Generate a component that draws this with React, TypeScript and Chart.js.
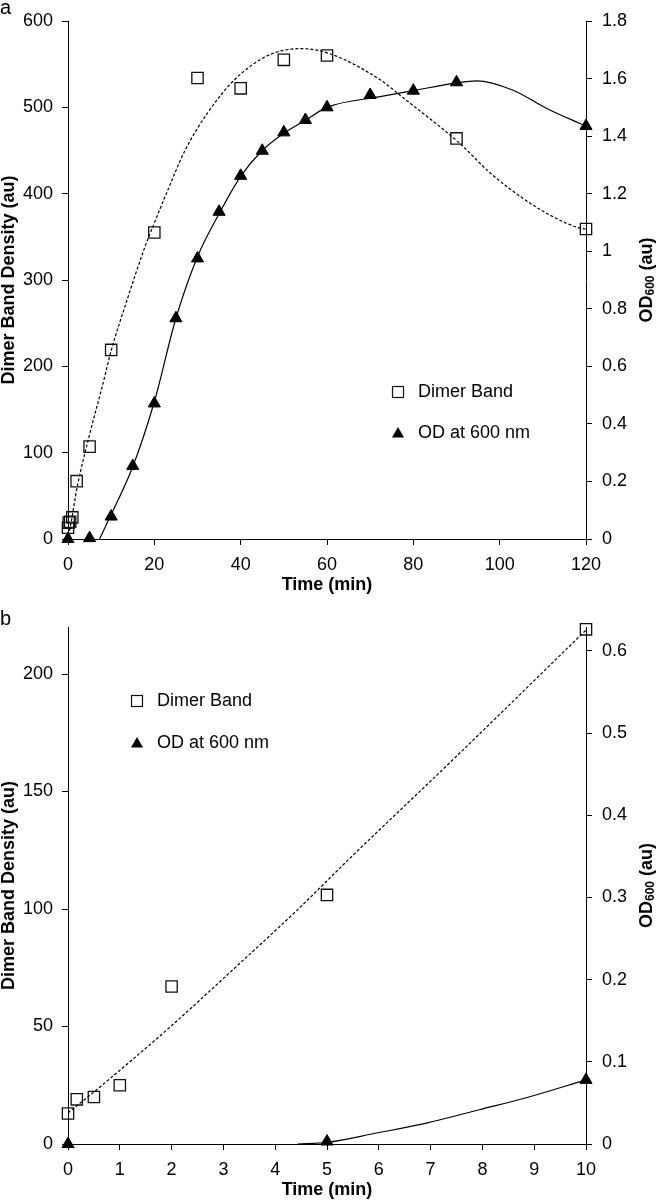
import React, { useEffect, useRef } from "react";
import { Chart, registerables } from "chart.js";
Chart.register(...registerables);

const FONT = "'Liberation Sans', Arial, Helvetica, sans-serif";

// ---------- Panel a data ----------
const timeDimerA = [0, 0.17, 0.5, 1, 2, 5, 10, 20, 30, 40, 50, 60, 90, 120];
const dimerA = [13, 19, 20, 25, 67, 107, 219, 355, 534, 522, 555, 560, 464, 359];
const timeOdA = [0, 5, 10, 15, 20, 25, 30, 35, 40, 45, 50, 55, 60, 70, 80, 90, 120];
const odA = [0, 0.003, 0.078, 0.254, 0.471, 0.767, 0.975, 1.137, 1.262, 1.349, 1.413, 1.456, 1.5, 1.543, 1.558, 1.587, 1.435];
// trend lines
const dimerFitTA = [0, 0.4, 2.2, 5, 8, 10, 13.5, 17.8, 20, 23.2, 27, 32.4, 38.6, 46.3, 54, 60.7, 72.3, 76.9, 90.8, 97.8, 104.7, 111.7, 118.6, 120];
const dimerFitA = [4, 11, 62, 121, 178, 218, 274, 338, 366, 405, 449, 494, 532, 560, 568, 562, 532, 514, 458, 424, 397, 375, 360, 359];
const odFitTA = [7.3, 10, 15, 20, 25, 30, 35, 40, 45, 50, 55, 60, 72.3, 80, 90, 94.7, 103, 110.9, 118.6, 120];
const odFitA = [0, 0.085, 0.251, 0.477, 0.767, 0.981, 1.13, 1.26, 1.35, 1.41, 1.455, 1.5, 1.537, 1.558, 1.585, 1.592, 1.56, 1.496, 1.444, 1.435];
const xTicksA = [0, 20, 40, 60, 80, 100, 120];
const yTicksA = [0, 100, 200, 300, 400, 500, 600];
const y2TicksA = [0, 0.2, 0.4, 0.6, 0.8, 1, 1.2, 1.4, 1.6, 1.8];

// ---------- Panel b data ----------
const timeDimerB = [0, 0.17, 0.5, 1, 2, 5, 10];
const dimerB = [13, 19, 20, 25, 67, 106, 219];
const timeOdB = [0, 5, 10];
const odB = [0, 0.003, 0.078];
const dimerFitTB = [0, 0.63, 1.91, 3.18, 4.46, 5.41, 7.5, 10];
const dimerFitB = [13.2, 24.5, 48.6, 74.1, 100.3, 120.9, 165, 218.7];
const odFitTB = [4.43, 5, 5.96, 6.92, 7.94, 8.83, 10];
const odFitB = [0, 0.002, 0.0134, 0.0255, 0.0417, 0.056, 0.078];
const xTicksB = [0, 1, 2, 3, 4, 5, 6, 7, 8, 9, 10];
const yTicksB = [0, 50, 100, 150, 200];
const y2TicksB = [0, 0.1, 0.2, 0.3, 0.4, 0.5, 0.6];

const legendLabels = ["Dimer Band", "OD at 600 nm"];
const xTitle = "Time (min)";
const yTitle = "Dimer Band Density (au)";

type Pt = { x: number; y: number };
const zip = (xs: number[], ys: number[]): Pt[] => xs.map((x, i) => ({ x, y: ys[i] }));

interface Spec {
  id: string;
  height: number;
  areaTop: number;
  areaBottom: number;
  xMax: number;
  xTicks: number[];
  yMax: number;
  yTicks: number[];
  y2Max: number;
  y2Ticks: number[];
  dimer: Pt[];
  od: Pt[];
  dimerFit: Pt[];
  odFit: Pt[];
  label: string;
  labelY: number;
  legendX: number;
  legendY1: number;
  legendY2: number;
  xTitleY: number;
}

const AREA_LEFT = 68;
const AREA_RIGHT = 586;
const WIDTH = 657;

function overlayPlugin(spec: Spec) {
  return {
    id: "overlay_" + spec.id,
    afterDraw(chart: any) {
      const ctx: CanvasRenderingContext2D = chart.ctx;
      const area = chart.chartArea;
      ctx.save();
      ctx.fillStyle = "#000";
      ctx.strokeStyle = "#000";
      // panel label
      ctx.font = `20px ${FONT}`;
      ctx.textAlign = "left";
      ctx.textBaseline = "alphabetic";
      ctx.fillText(spec.label, 0, spec.labelY);
      // x title
      ctx.font = `bold 18px ${FONT}`;
      ctx.textAlign = "center";
      ctx.textBaseline = "middle";
      ctx.fillText(xTitle, (area.left + area.right) / 2, spec.xTitleY);
      const cy = (area.top + area.bottom) / 2;
      // left title
      ctx.save();
      ctx.translate(9, cy);
      ctx.rotate(-Math.PI / 2);
      ctx.fillText(yTitle, 0, 0);
      ctx.restore();
      // right title with subscript
      ctx.save();
      ctx.translate(647, cy);
      ctx.rotate(-Math.PI / 2);
      const big = `bold 18px ${FONT}`;
      const small = `bold 12px ${FONT}`;
      ctx.font = big;
      const w1 = ctx.measureText("OD").width;
      const w3 = ctx.measureText(" (au)").width;
      ctx.font = small;
      const w2 = ctx.measureText("600").width;
      const x0 = -(w1 + w2 + w3) / 2;
      ctx.textAlign = "left";
      ctx.textBaseline = "middle";
      ctx.font = big;
      ctx.fillText("OD", x0, 0);
      ctx.font = small;
      ctx.fillText("600", x0 + w1, 4);
      ctx.font = big;
      ctx.fillText(" (au)", x0 + w1 + w2, 0);
      ctx.restore();
      // legend
      const lx = spec.legendX;
      ctx.lineWidth = 1.2;
      ctx.strokeStyle = "#111";
      ctx.strokeRect(lx - 5.5, spec.legendY1 - 5.5, 11, 11);
      const r = 7;
      const ty = spec.legendY2 + 1;
      ctx.beginPath();
      ctx.moveTo(lx, ty - r);
      ctx.lineTo(lx + r * Math.sin((2 * Math.PI) / 3), ty - r * Math.cos((2 * Math.PI) / 3));
      ctx.lineTo(lx + r * Math.sin((4 * Math.PI) / 3), ty - r * Math.cos((4 * Math.PI) / 3));
      ctx.closePath();
      ctx.fillStyle = "#000";
      ctx.fill();
      ctx.font = `18px ${FONT}`;
      ctx.textAlign = "left";
      ctx.textBaseline = "middle";
      ctx.fillText(legendLabels[0], lx + 20, spec.legendY1);
      ctx.fillText(legendLabels[1], lx + 20, spec.legendY2);
      ctx.restore();
    },
  };
}

function axisCommon(ticks: number[], padding: number) {
  return {
    grid: { drawOnChartArea: false, drawTicks: true, tickLength: 6, color: "#000", lineWidth: 1 },
    border: { display: true, color: "#000", width: 1 },
    afterBuildTicks: (axis: any) => {
      axis.ticks = ticks.map((v) => ({ value: v }));
    },
    ticks: {
      color: "#000",
      font: { family: FONT, size: 18 },
      padding,
      callback: (v: any) => String(v),
      maxRotation: 0,
      autoSkip: false,
    },
  };
}

function buildChart(canvas: HTMLCanvasElement, spec: Spec) {
  const xHeight = spec.height - spec.areaBottom;
  return new Chart(canvas, {
    type: "scatter",
    data: {
      datasets: [
        {
          label: legendLabels[0],
          data: spec.dimer,
          yAxisID: "y",
          pointStyle: "rect",
          pointRadius: 8,
          pointBorderWidth: 1.3,
          borderColor: "#111",
          backgroundColor: "rgba(0,0,0,0)",
          showLine: false,
          clip: false,
        } as any,
        {
          label: legendLabels[1],
          data: spec.od,
          yAxisID: "y2",
          pointStyle: "triangle",
          pointRadius: 7,
          pointBorderWidth: 1,
          borderColor: "#000",
          backgroundColor: "#000",
          showLine: false,
          clip: false,
        } as any,
        {
          label: "dimer fit",
          data: spec.dimerFit,
          yAxisID: "y",
          showLine: true,
          pointRadius: 0,
          borderColor: "#000",
          borderWidth: 1.2,
          borderDash: [3, 2],
          cubicInterpolationMode: "monotone",
          fill: false,
        } as any,
        {
          label: "od fit",
          data: spec.odFit,
          yAxisID: "y2",
          showLine: true,
          pointRadius: 0,
          borderColor: "#000",
          borderWidth: 1.2,
          cubicInterpolationMode: "monotone",
          fill: false,
        } as any,
      ],
    },
    options: {
      animation: false,
      responsive: false,
      devicePixelRatio: 1,
      events: [],
      layout: { padding: { top: spec.areaTop, left: 0, right: 0, bottom: 0 } },
      plugins: { legend: { display: false }, tooltip: { enabled: false } },
      scales: {
        x: {
          type: "linear",
          min: 0,
          max: spec.xMax,
          ...axisCommon(spec.xTicks, 9),
          afterFit: (s: any) => {
            s.height = xHeight;
          },
        } as any,
        y: {
          type: "linear",
          position: "left",
          min: 0,
          max: spec.yMax,
          ...axisCommon(spec.yTicks, 9),
          afterFit: (s: any) => {
            s.width = AREA_LEFT;
          },
        } as any,
        y2: {
          type: "linear",
          position: "right",
          min: 0,
          max: spec.y2Max,
          ...axisCommon(spec.y2Ticks, 10),
          afterFit: (s: any) => {
            s.width = WIDTH - AREA_RIGHT;
          },
        } as any,
      },
    },
    plugins: [overlayPlugin(spec)],
  });
}

const specA: Spec = {
  id: "a",
  height: 600,
  areaTop: 21,
  areaBottom: 539,
  xMax: 120,
  xTicks: xTicksA,
  yMax: 600,
  yTicks: yTicksA,
  y2Max: 1.8,
  y2Ticks: y2TicksA,
  dimer: zip(timeDimerA, dimerA),
  od: zip(timeOdA, odA),
  dimerFit: zip(dimerFitTA, dimerFitA),
  odFit: zip(odFitTA, odFitA),
  label: "a",
  labelY: 14,
  legendX: 398,
  legendY1: 392,
  legendY2: 433,
  xTitleY: 585,
};

const specB: Spec = {
  id: "b",
  height: 601,
  areaTop: 27,
  areaBottom: 544,
  xMax: 10,
  xTicks: xTicksB,
  yMax: 220,
  yTicks: yTicksB,
  y2Max: 0.629,
  y2Ticks: y2TicksB,
  dimer: zip(timeDimerB, dimerB),
  od: zip(timeOdB, odB),
  dimerFit: zip(dimerFitTB, dimerFitB),
  odFit: zip(odFitTB, odFitB),
  label: "b",
  labelY: 25,
  legendX: 137,
  legendY1: 101,
  legendY2: 143,
  xTitleY: 590,
};

function Panel({ spec }: { spec: Spec }) {
  const ref = useRef<HTMLCanvasElement | null>(null);
  useEffect(() => {
    if (!ref.current) return;
    const chart = buildChart(ref.current, spec);
    return () => chart.destroy();
  }, [spec]);
  return (
    <canvas
      ref={ref}
      width={WIDTH}
      height={spec.height}
      style={{ display: "block", width: WIDTH, height: spec.height }}
    />
  );
}

export default function App() {
  return (
    <div style={{ position: "absolute", left: 0, top: 0, width: WIDTH, height: 1201, background: "#fff" }}>
      <Panel spec={specA} />
      <Panel spec={specB} />
    </div>
  );
}
